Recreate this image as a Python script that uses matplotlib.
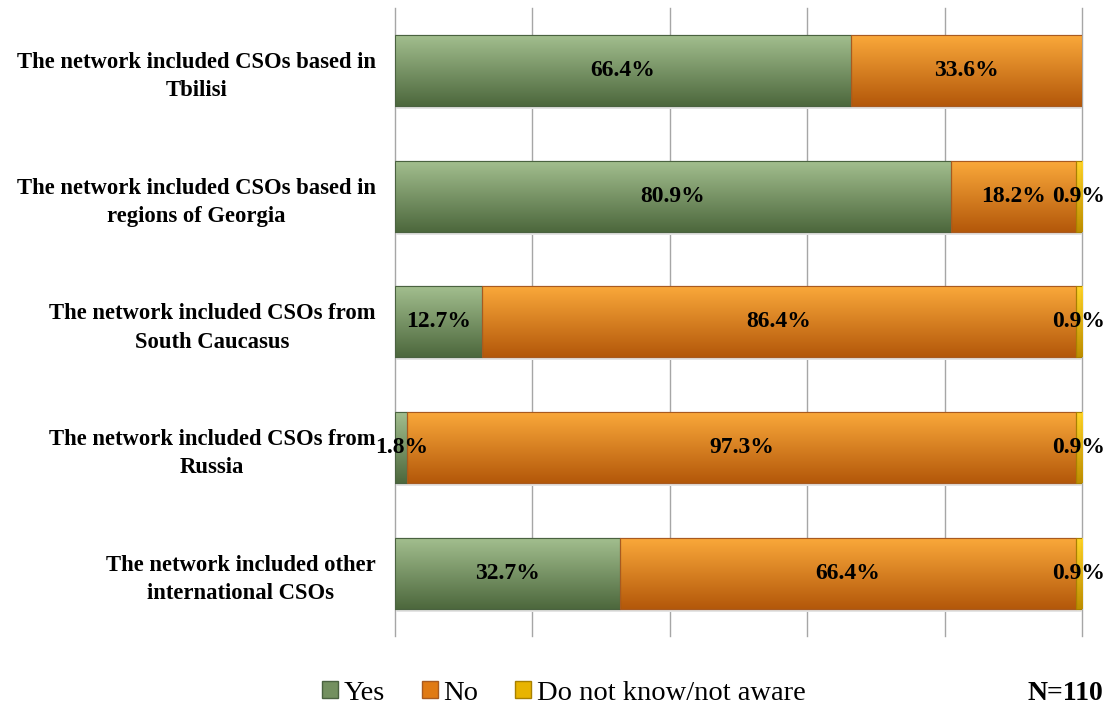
import matplotlib
matplotlib.use("Agg")
import matplotlib.pyplot as plt
import numpy as np
from matplotlib.patches import Patch
from matplotlib.colors import LinearSegmentedColormap

categories = [
    "The network included CSOs based in\nTbilisi",
    "The network included CSOs based in\nregions of Georgia",
    "The network included CSOs from\nSouth Caucasus",
    "The network included CSOs from\nRussia",
    "The network included other\ninternational CSOs",
]
yes = [66.4, 80.9, 12.7, 1.8, 32.7]
no = [33.6, 18.2, 86.4, 97.3, 66.4]
dk = [0.0, 0.9, 0.9, 0.9, 0.9]
series_names = ["Yes", "No", "Do not know/not aware"]

grad = {
    "Yes": ("#A2BE8E", "#4D683D", "#4A6240"),
    "No": ("#FAA83A", "#B3580A", "#A85A20"),
    "Do not know/not aware": ("#FFD428", "#BE8E00", "#A88000"),
}
mid = {"Yes": "#73905F", "No": "#E07A14", "Do not know/not aware": "#E8B400"}

fig = plt.figure(figsize=(11.10, 7.13), dpi=100)
ax = fig.add_axes([0.3559, 0.108, 0.6189, 0.8812])

y = np.arange(len(categories))
left = np.zeros(len(categories))
h = 0.565
for name, vals in zip(series_names, [yes, no, dk]):
    vals = np.array(vals)
    bars = ax.barh(y, vals, left=left, height=h, color=mid[name],
                   edgecolor=grad[name][2], linewidth=0.8, zorder=3)
    top, bot, edge = grad[name]
    cmap = LinearSegmentedColormap.from_list(name, [top, bot])
    g = np.linspace(0, 1, 100).reshape(-1, 1)
    for b, v in zip(bars, vals):
        if v <= 0:
            continue
        x0, y0 = b.get_x(), b.get_y()
        w, hh = b.get_width(), b.get_height()
        # soft shadow
        ax.add_patch(plt.Rectangle((x0 + 0.2, y0 + 0.025), w, hh, color="#e4e4e4",
                                   zorder=2, linewidth=0))
        im = ax.imshow(g, cmap=cmap, aspect="auto", extent=(x0, x0 + w, y0 + hh, y0),
                       zorder=3.5, interpolation="bilinear")
        im.set_clip_path(b)
        ax.add_patch(plt.Rectangle((x0, y0), w, hh, fill=False, edgecolor=edge,
                                   linewidth=0.8, zorder=4))
        ax.text(x0 + w / 2, b.get_y() + hh / 2, f"{v:.1f}%", ha="center", va="center",
                fontsize=17, fontweight="bold", family="Liberation Serif", color="black",
                zorder=5)
    left = left + vals

ax.set_xlim(0, 100)
ax.set_ylim(len(categories) - 0.5, -0.5)
ax.set_xticks([0, 20, 40, 60, 80, 100])
ax.set_xticklabels([])
ax.tick_params(axis="x", length=0)
ax.tick_params(axis="y", length=0, pad=14)
ax.set_yticks(y)
ax.set_yticklabels(categories, fontsize=16.3, fontweight="bold", family="Liberation Serif",
                   multialignment="center", linespacing=1.45)
ax.grid(axis="x", color="#A6A6A6", linewidth=1.0, zorder=0)
for gl in ax.get_xgridlines():
    gl.set_clip_on(False)
for s in ax.spines.values():
    s.set_visible(False)
ax.set_axisbelow(True)

handles = [Patch(facecolor=mid[n], edgecolor=grad[n][2], label=n) for n in series_names]
fig.legend(handles=handles, loc="center", bbox_to_anchor=(0.508, 0.028), ncol=3,
           frameon=False, prop={"family": "Liberation Serif", "size": 20.5},
           handlelength=0.55, handleheight=0.55, handletextpad=0.2, columnspacing=1.3)
fig.text(0.9935, 0.028, "N=110", ha="right", va="center", fontsize=20, fontweight="bold",
         family="Liberation Serif")

fig.savefig("out.png", dpi=100)
